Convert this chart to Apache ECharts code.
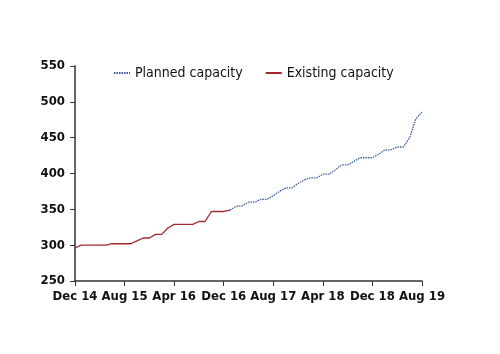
<!DOCTYPE html>
<html>
<head>
<meta charset="utf-8">
<script src="https://cdn.jsdelivr.net/npm/echarts@6/dist/echarts.min.js"></script>
<style>
  html, body { margin: 0; padding: 0; background: #fff; }
  #chart { width: 500px; height: 354px; }
</style>
</head>
<body>
<div id="chart"></div>
<script>
// monthly, Dec 14 .. Aug 19
const months = [
  "Dec 14", "Jan 15", "Feb 15", "Mar 15", "Apr 15", "May 15", "Jun 15", "Jul 15", "Aug 15", "Sep 15", "Oct 15", "Nov 15", "Dec 15",
  "Jan 16", "Feb 16", "Mar 16", "Apr 16", "May 16", "Jun 16", "Jul 16", "Aug 16", "Sep 16", "Oct 16", "Nov 16", "Dec 16",
  "Jan 17", "Feb 17", "Mar 17", "Apr 17", "May 17", "Jun 17", "Jul 17", "Aug 17", "Sep 17", "Oct 17", "Nov 17", "Dec 17",
  "Jan 18", "Feb 18", "Mar 18", "Apr 18", "May 18", "Jun 18", "Jul 18", "Aug 18", "Sep 18", "Oct 18", "Nov 18", "Dec 18",
  "Jan 19", "Feb 19", "Mar 19", "Apr 19", "May 19", "Jun 19", "Jul 19", "Aug 19"
];

// existing capacity: Dec 14 .. Jan 17
const existing = [
  296, 300, 300, 300, 300, 300, 302, 302, 302, 302, 306, 310, 310,
  315, 315, 324, 329, 329, 329, 329, 333, 333, 347, 347, 347, 349
];

// planned capacity: Jan 17 .. Aug 19
const plannedStart = 25;
const planned = [
  349, 354, 355, 360, 360, 364, 364, 369, 375, 380, 380, 386,
  391, 394, 394, 399, 399, 405, 412, 412, 417, 422, 422, 422,
  427, 433, 433, 437, 437, 450, 476, 486
];

const yTicks = { min: 250, max: 550, step: 50 };

const existingData = months.map((m, i) => (i < existing.length ? existing[i] : null));
const plannedData = months.map((m, i) => (i >= plannedStart ? planned[i - plannedStart] : null));

const chart = echarts.init(document.getElementById("chart"));

const labelFont = {
  color: "#111",
  fontFamily: "DejaVu Sans Condensed",
  fontWeight: "bold",
  fontSize: 13
};

chart.setOption({
  animation: false,
  grid: { left: 75, right: 78, top: 66, bottom: 73 },
  legend: {
    left: 113,
    top: 66,
    padding: 0,
    itemWidth: 16,
    itemHeight: 4,
    itemGap: 22,
    itemStyle: { opacity: 0 },
    textStyle: { fontFamily: "DejaVu Sans Condensed", fontSize: 14, color: "#111" },
    data: ["Planned capacity", "Existing capacity"]
  },
  xAxis: {
    type: "category",
    data: months,
    boundaryGap: false,
    axisLine: { lineStyle: { color: "#333", width: 1.5 } },
    axisTick: { show: true, interval: 7, length: 5, lineStyle: { color: "#333" } },
    axisLabel: Object.assign({ interval: 7, margin: 9 }, labelFont)
  },
  yAxis: {
    type: "value",
    min: yTicks.min,
    max: yTicks.max,
    interval: yTicks.step,
    splitLine: { show: false },
    axisLine: { show: true, lineStyle: { color: "#666", width: 2 } },
    axisTick: { show: true, length: 5, lineStyle: { color: "#333" } },
    axisLabel: Object.assign({ margin: 10 }, labelFont)
  },
  series: [
    {
      name: "Planned capacity",
      type: "line",
      data: plannedData,
      showSymbol: false,
      symbol: "none",
      lineStyle: { color: "#3d5c9c", width: 1.3, type: [1.5, 1] },
      itemStyle: { color: "#3d5c9c" }
    },
    {
      name: "Existing capacity",
      type: "line",
      data: existingData,
      showSymbol: false,
      symbol: "none",
      lineStyle: { color: "#a3282d", width: 1.3 },
      itemStyle: { color: "#a3282d" }
    }
  ]
});
</script>
</body>
</html>
